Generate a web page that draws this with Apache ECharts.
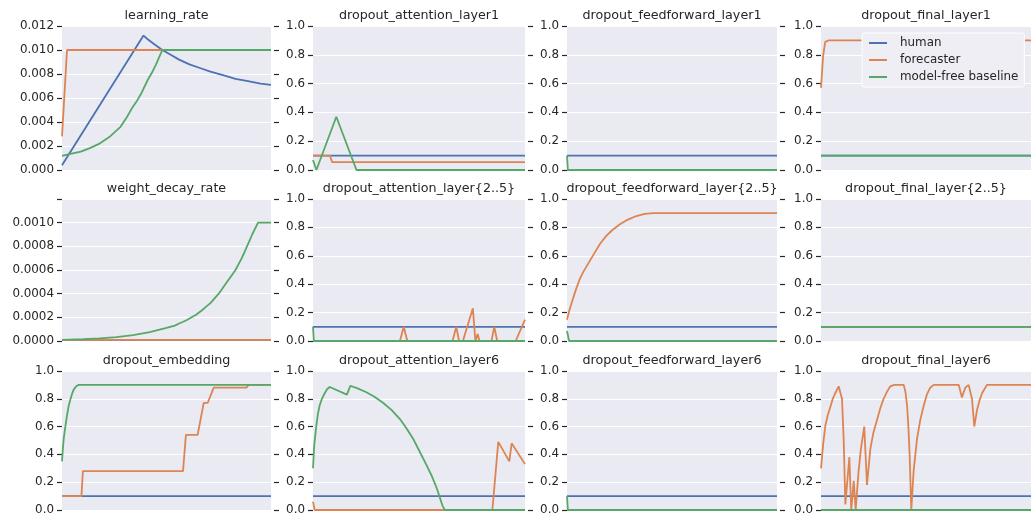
<!DOCTYPE html>
<html>
<head>
<meta charset="utf-8">
<script src="https://cdn.jsdelivr.net/npm/echarts@6/dist/echarts.min.js"></script>
<style>html,body{margin:0;padding:0;background:#fff;}#c{width:1033px;height:516px;}</style>
</head>
<body>
<div id="c"></div>
<script>
// ---------- DATA ----------
const panelTitles = ['learning_rate','dropout_attention_layer1','dropout_feedforward_layer1','dropout_final_layer1',
  'weight_decay_rate','dropout_attention_layer{2..5}','dropout_feedforward_layer{2..5}','dropout_final_layer{2..5}',
  'dropout_embedding','dropout_attention_layer6','dropout_feedforward_layer6','dropout_final_layer6'];
const seriesNames = ['human','forecaster','model-free baseline'];

// learning_rate
const lrHuman = [[0,0.0004],[39,0.0112],[41,0.0109],[44,0.0105],[48,0.0100],[52,0.0096],[56,0.0092],[61,0.0088],[66,0.0085],[71,0.0082],[77,0.0079],[83,0.0076],[89,0.0074],[95,0.0072],[100,0.0071]];
const lrForecaster = [[0,0.0028],[2.4,0.0100],[100,0.0100]];
const lrBaseline = [[0,0.00117],[3,0.0013],[9,0.00153],[13,0.0018],[18,0.0022],[20.5,0.0025],[23,0.0028],[25.5,0.0032],[28,0.0036],[31,0.0044],[34,0.0053],[36,0.0058],[38,0.0064],[41,0.0075],[43,0.0081],[45,0.0088],[46.5,0.0094],[48,0.0100],[100,0.0100]];

// dropout_attention_layer1
const da1Human = [[0,0.1],[100,0.1]];
const da1Forecaster = [[0,0.1],[8,0.1],[9,0.055],[100,0.055]];
const da1Baseline = [[0,0.07],[1.6,0],[11,0.37],[20.5,0],[100,0]];

// dropout_feedforward_layer1
const df1Human = [[0,0.1],[100,0.1]];
const df1Forecaster = [[0,0],[100,0]];
const df1Baseline = [[0,0.1],[0.4,0],[100,0]];

// dropout_final_layer1
const dl1Human = [[0,0.1],[100,0.1]];
const dl1Forecaster = [[0,0.57],[1,0.79],[2,0.89],[3.7,0.9],[100,0.9]];
const dl1Baseline = [[0,0.1],[100,0.1]];

// weight_decay_rate
const wdHuman = [[0,0.00001],[100,0.00001]];
const wdForecaster = [[0,0.00001],[100,0.00001]];
const wdBaseline = [[0,0.00001],[10,0.000015],[18,0.000022],[26,0.000033],[34,0.00005],[42,0.000075],[50,0.00011],[54,0.00013],[56,0.000148],[58,0.000163],[60,0.00018],[62,0.0002],[64,0.00022],[67,0.00026],[69,0.00029],[71,0.00032],[73,0.00036],[75,0.0004],[77,0.00045],[79,0.0005],[81,0.00055],[83,0.0006],[84.5,0.00065],[86,0.0007],[87.3,0.00075],[88.5,0.0008],[89.8,0.00085],[91,0.0009],[92.4,0.00095],[93.8,0.001],[100,0.001]];

// dropout_attention_layer{2..5}
const da25Human = [[0,0.1],[100,0.1]];
const da25Forecaster = [[0,0],[41,0],[42.8,0.1],[44.5,0],[65.8,0],[67.6,0.1],[68.9,0],[70.7,0],[75.4,0.23],[76.6,0],[77.7,0.05],[78.5,0],[84.2,0],[85.5,0.1],[86.9,0],[95.6,0],[100,0.15]];
const da25Baseline = [[0,0.1],[0.4,0],[100,0]];

// dropout_feedforward_layer{2..5}
const df25Human = [[0,0.1],[100,0.1]];
const df25Forecaster = [[0,0.15],[1.2,0.22],[2.7,0.29],[4.2,0.36],[5.9,0.43],[7.5,0.48],[9.1,0.52],[11.5,0.58],[13.9,0.64],[16,0.69],[18.7,0.74],[21.5,0.78],[25,0.82],[29,0.855],[33,0.88],[37,0.895],[41,0.9],[100,0.9]];
const df25Baseline = [[0,0.07],[1,0],[100,0]];

// dropout_final_layer{2..5}
const dl25Human = [[0,0.1],[100,0.1]];
const dl25Forecaster = [[0,0.1],[100,0.1]];
const dl25Baseline = [[0,0.1],[100,0.1]];

// dropout_embedding
const deHuman = [[0,0.1],[100,0.1]];
const deForecaster = [[0,0.1],[9.3,0.1],[10,0.28],[57.9,0.28],[59.3,0.54],[64.9,0.54],[67.8,0.77],[69.7,0.77],[72.6,0.88],[88.2,0.88],[89.3,0.9],[100,0.9]];
const deBaseline = [[0,0.35],[0.4,0.44],[0.8,0.51],[1.6,0.6],[2.4,0.68],[3.2,0.75],[4,0.795],[4.8,0.835],[5.6,0.866],[6.8,0.89],[8,0.9],[100,0.9]];

// dropout_attention_layer6
const da6Human = [[0,0.1],[100,0.1]];
const da6Forecaster = [[0,0.06],[0.8,0],[84.6,0],[87.4,0.49],[92.6,0.35],[93.7,0.48],[100,0.33]];
const da6Baseline = [[0,0.3],[0.6,0.47],[1.6,0.61],[2.3,0.69],[3.1,0.75],[4.2,0.8],[5.5,0.84],[6.7,0.87],[7.9,0.885],[16,0.83],[17.6,0.894],[21,0.875],[25.2,0.847],[29,0.815],[33,0.772],[37,0.72],[41,0.654],[44,0.59],[47.2,0.513],[50,0.43],[53.5,0.325],[56,0.245],[58.3,0.16],[61.1,0.03],[62.2,0],[100,0]];

// dropout_feedforward_layer6
const df6Human = [[0,0.1],[100,0.1]];
const df6Forecaster = [[0,0],[100,0]];
const df6Baseline = [[0,0.1],[0.4,0],[100,0]];

// dropout_final_layer6
const dl6Human = [[0,0.1],[100,0.1]];
const dl6Forecaster = [[0,0.3],[1,0.47],[2.1,0.61],[3.2,0.68],[4.4,0.74],[5.6,0.8],[6.8,0.84],[8.4,0.89],[9.2,0.89],[10,0.8],[10.8,0.51],[11.6,0.04],[12.4,0.03],[13.5,0.38],[14.4,0],[15.6,0.21],[16.5,0],[17.9,0.28],[19,0.44],[20.6,0.6],[21.9,0.18],[23.5,0.44],[25,0.56],[26.7,0.65],[28.2,0.73],[29.8,0.8],[31.4,0.85],[33,0.89],[34.9,0.9],[39.4,0.9],[40.2,0.85],[41,0.75],[41.6,0.6],[42.2,0.4],[43,0],[44.1,0.28],[45.7,0.51],[47.3,0.65],[48.9,0.75],[50.4,0.83],[52,0.88],[53.7,0.9],[65.6,0.9],[67.1,0.81],[68.7,0.88],[70.3,0.9],[71.1,0.9],[71.9,0.8],[73,0.6],[74.3,0.72],[75.5,0.79],[76.7,0.84],[79,0.9],[100,0.9]];
const dl6Baseline = [[0,0],[100,0]];

const panelData = [
  [lrHuman, lrForecaster, lrBaseline],
  [da1Human, da1Forecaster, da1Baseline],
  [df1Human, df1Forecaster, df1Baseline],
  [dl1Human, dl1Forecaster, dl1Baseline],
  [wdHuman, wdForecaster, wdBaseline],
  [da25Human, da25Forecaster, da25Baseline],
  [df25Human, df25Forecaster, df25Baseline],
  [dl25Human, dl25Forecaster, dl25Baseline],
  [deHuman, deForecaster, deBaseline],
  [da6Human, da6Forecaster, da6Baseline],
  [df6Human, df6Forecaster, df6Baseline],
  [dl6Human, dl6Forecaster, dl6Baseline]
];

// y-axis scales per panel
const lrAxis = {min: 0, max: 0.012, interval: 0.002, decimals: 3};
const wdAxis = {min: 0, max: 0.0012, interval: 0.0002, decimals: 4, hideAbove: 0.00105};
const dropoutAxis = {min: 0, max: 1, interval: 0.2, decimals: 1};
const panelAxes = [lrAxis, dropoutAxis, dropoutAxis, dropoutAxis,
                   wdAxis, dropoutAxis, dropoutAxis, dropoutAxis,
                   dropoutAxis, dropoutAxis, dropoutAxis, dropoutAxis];

// ---------- LAYOUT / STYLE ----------
const colors = ['#4C72B0', '#DD8452', '#55A868'];
const colLeft = [62, 313, 567, 821];
const colWidth = [209, 212, 210, 210];
const rowTop = [26, 199, 371];
const rowHeight = [144, 142, 142];
const FONT = 'DejaVu Sans';
const textColor = '#262626';

const grids = [], xAxes = [], yAxes = [], titles = [], series = [];
for (let i = 0; i < 12; i++) {
  const r = Math.floor(i / 4), c = i % 4;
  grids.push({
    left: colLeft[c], top: rowTop[r], width: colWidth[c], height: rowHeight[r],
    show: true, backgroundColor: '#EAEAF2', borderWidth: 0, containLabel: false
  });
  xAxes.push({gridIndex: i, type: 'value', min: 0, max: 100, show: false});
  const ax = panelAxes[i];
  yAxes.push({
    gridIndex: i, type: 'value', position: 'left', offset: 3,
    min: ax.min, max: ax.max, interval: ax.interval,
    axisLine: {show: false},
    axisTick: {show: true, length: 5, lineStyle: {color: textColor, width: 1.2}},
    axisLabel: {
      margin: 5, color: textColor, fontFamily: FONT, fontSize: 11.9,
      formatter: (v) => (ax.hideAbove !== undefined && v > ax.hideAbove) ? '' : v.toFixed(ax.decimals)
    },
    splitLine: {show: true, lineStyle: {color: '#FFFFFF', width: 1.2}}
  });
  titles.push({
    text: panelTitles[i], left: colLeft[c] + colWidth[c] / 2, top: rowTop[r] - 17,
    textAlign: 'center', padding: 0,
    textStyle: {fontFamily: FONT, fontSize: 12.7, fontWeight: 'normal', color: textColor}
  });
  for (let s = 0; s < 3; s++) {
    series.push({
      name: seriesNames[s], type: 'line', xAxisIndex: i, yAxisIndex: i,
      data: panelData[i][s], showSymbol: false, symbol: 'none',
      lineStyle: {color: colors[s], width: 1.8}, itemStyle: {color: colors[s]},
      z: 2 + s, animation: false
    });
  }
}
// right-side tick-only axes
for (let i = 0; i < 12; i++) {
  const ax = panelAxes[i];
  yAxes.push({
    gridIndex: i, type: 'value', position: 'right', offset: 3,
    min: ax.min, max: ax.max, interval: ax.interval,
    axisLine: {show: false},
    axisTick: {show: true, length: 5, lineStyle: {color: textColor, width: 1.2}},
    axisLabel: {show: false},
    splitLine: {show: false}
  });
}

const chart = echarts.init(document.getElementById('c'), null, {renderer: 'canvas'});
chart.setOption({
  animation: false,
  backgroundColor: '#FFFFFF',
  textStyle: {fontFamily: FONT},
  title: titles,
  grid: grids,
  xAxis: xAxes,
  yAxis: yAxes,
  legend: {
    data: seriesNames, orient: 'vertical', left: 862, top: 33,
    icon: 'rect', itemWidth: 18, itemHeight: 2, itemGap: 3,
    padding: [3, 6, 3, 7],
    backgroundColor: '#EEEEF4', borderColor: '#FFFFFF', borderWidth: 1, borderRadius: 2,
    textStyle: {fontFamily: FONT, fontSize: 11.9, color: textColor, lineHeight: 14, padding: [0, 0, 0, 8]},
    z: 10
  },
  series: series
});
</script>
</body>
</html>
